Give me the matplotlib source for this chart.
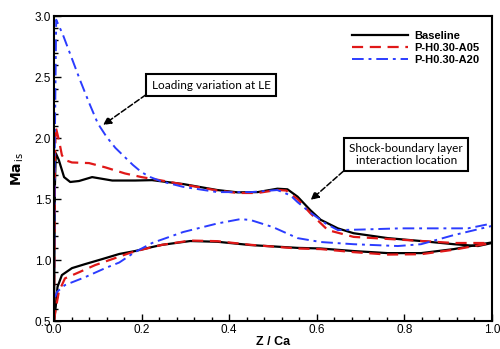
import matplotlib
matplotlib.use('Agg')
import matplotlib.pyplot as plt
from matplotlib.ticker import MultipleLocator

# Baseline
base_up_x = [0, 0.002, 0.004, 0.011, 0.023, 0.037, 0.057, 0.087, 0.133, 0.185, 0.224, 0.295, 0.373,
             0.419, 0.465, 0.51, 0.533, 0.556, 0.585, 0.609, 0.648, 0.684, 0.762, 0.838, 0.913, 0.968, 1.0]
base_up_y = [0.5, 1.6, 1.877, 1.82, 1.68, 1.64, 1.648, 1.68, 1.652, 1.652, 1.655, 1.623, 1.574,
             1.555, 1.557, 1.585, 1.58, 1.52, 1.41, 1.33, 1.26, 1.22, 1.18, 1.156, 1.13, 1.115, 1.14]
base_lo_x = [0, 0.004, 0.008, 0.018, 0.041, 0.071, 0.11, 0.149, 0.185, 0.224, 0.247, 0.311, 0.373,
             0.449, 0.556, 0.609, 0.684, 0.762, 0.838, 0.913, 0.959, 1.0]
base_lo_y = [0.5, 0.62, 0.78, 0.877, 0.934, 0.967, 1.008, 1.05, 1.074, 1.107, 1.125, 1.156, 1.15,
             1.123, 1.10, 1.095, 1.074, 1.057, 1.057, 1.09, 1.12, 1.145]

# P-H0.30-A05
a05_up_x = [0, 0.002, 0.004, 0.008, 0.012, 0.018, 0.025, 0.041, 0.08, 0.117, 0.162, 0.2, 0.24, 0.295,
            0.373, 0.419, 0.465, 0.51, 0.53, 0.556, 0.585, 0.625, 0.684, 0.8, 0.913, 1.0]
a05_up_y = [0.5, 1.8, 2.09, 2.03, 1.97, 1.86, 1.82, 1.80, 1.795, 1.76, 1.71, 1.68, 1.656, 1.62,
            1.57, 1.55, 1.55, 1.575, 1.57, 1.50, 1.385, 1.246, 1.19, 1.165, 1.14, 1.14]
a05_lo_x = [0, 0.004, 0.011, 0.025, 0.057, 0.094, 0.133, 0.172, 0.2, 0.247, 0.311, 0.373, 0.449,
            0.556, 0.609, 0.684, 0.762, 0.838, 0.913, 0.959, 1.0]
a05_lo_y = [0.5, 0.6, 0.74, 0.85, 0.90, 0.959, 1.008, 1.057, 1.085, 1.125, 1.16, 1.155, 1.125,
            1.095, 1.09, 1.065, 1.045, 1.048, 1.085, 1.115, 1.14]

# P-H0.30-A20
a20_up_x = [0, 0.002, 0.005, 0.02, 0.04, 0.06, 0.08, 0.1, 0.12, 0.14, 0.16, 0.18, 0.2, 0.22,
            0.245, 0.295, 0.373, 0.449, 0.51, 0.54, 0.556, 0.585, 0.62, 0.648, 0.7,
            0.79, 0.945, 1.0]
a20_up_y = [0.72, 2.0, 2.97, 2.85, 2.66, 2.47, 2.29, 2.12, 2.01, 1.92, 1.85, 1.78, 1.72, 1.68,
            1.645, 1.60, 1.557, 1.557, 1.574, 1.53, 1.475, 1.39, 1.30, 1.246, 1.25,
            1.26, 1.26, 1.30]
a20_lo_x = [0, 0.003, 0.007, 0.025, 0.071, 0.117, 0.149, 0.185, 0.224, 0.295, 0.373, 0.426, 0.449,
            0.5, 0.556, 0.609, 0.684, 0.785, 0.838, 0.913, 1.0]
a20_lo_y = [0.72, 0.70, 0.74, 0.795, 0.86, 0.934, 0.98, 1.066, 1.14, 1.23, 1.30, 1.336, 1.328,
            1.27, 1.18, 1.148, 1.13, 1.115, 1.13, 1.205, 1.28]

labels = ['Baseline', 'P-H0.30-A05', 'P-H0.30-A20']

plt.rcParams['font.family'] = ['Liberation Sans', 'DejaVu Sans']

fig = plt.figure(figsize=(5.0, 3.49), dpi=100)
ax = fig.add_axes([0.108, 0.080, 0.876, 0.874])

blue = '#2b3cff'
red = '#e01818'
l1, = ax.plot(base_up_x, base_up_y, color='black', lw=1.6)
ax.plot(base_lo_x, base_lo_y, color='black', lw=1.6)
l2, = ax.plot(a05_up_x, a05_up_y, color=red, lw=1.6, dashes=(5, 3))
ax.plot(a05_lo_x, a05_lo_y, color=red, lw=1.6, dashes=(5, 3))
l3, = ax.plot(a20_up_x, a20_up_y, color=blue, lw=1.4, dashes=(6, 2.5, 1.5, 2.5))
ax.plot(a20_lo_x, a20_lo_y, color=blue, lw=1.4, dashes=(6, 2.5, 1.5, 2.5))

ax.set_xlim(0, 1.0)
ax.set_ylim(0.5, 3.0)
ax.xaxis.set_major_locator(MultipleLocator(0.2))
ax.xaxis.set_minor_locator(MultipleLocator(0.04))
ax.yaxis.set_major_locator(MultipleLocator(0.5))
ax.yaxis.set_minor_locator(MultipleLocator(0.1))
ax.tick_params(which='both', direction='in', top=False, right=False, labelsize=8.5, width=1)
ax.tick_params(which='major', length=5, pad=2)
ax.tick_params(which='minor', length=3)
for s in ax.spines.values():
    s.set_linewidth(1.5)

ax.set_xlabel('Z / Ca', fontsize=9, fontweight='bold', labelpad=0)
ax.set_ylabel(r'$\mathbf{Ma}_{\,\mathrm{is}}$', fontsize=10, labelpad=6)

leg = ax.legend([l1, l2, l3], labels, loc='upper right', frameon=False,
                handlelength=5.0, handletextpad=0.6, labelspacing=0.2,
                bbox_to_anchor=(0.995, 0.985), prop={'weight': 'bold', 'size': 8})

box = dict(boxstyle='square,pad=0.45', fc='white', ec='black', lw=1.5)
ax.annotate('Loading variation at LE', xy=(0.112, 2.107), xytext=(0.359, 2.434),
            ha='center', va='center', fontsize=8.5, family=['Lato', 'DejaVu Sans'], bbox=box,
            arrowprops=dict(arrowstyle='-|>', linestyle='--', color='black', lw=1.1,
                            relpos=(0, 0), mutation_scale=12, shrinkA=0, shrinkB=0))
ax.annotate('Shock-boundary layer\ninteraction location', xy=(0.586, 1.492), xytext=(0.804, 1.865),
            ha='center', va='center', fontsize=8.5, family=['Lato', 'DejaVu Sans'], bbox=box,
            linespacing=1.1,
            arrowprops=dict(arrowstyle='-|>', linestyle='--', color='black', lw=1.1,
                            relpos=(0, 0), mutation_scale=12, shrinkA=0, shrinkB=0))

fig.savefig('out.png', dpi=100)
